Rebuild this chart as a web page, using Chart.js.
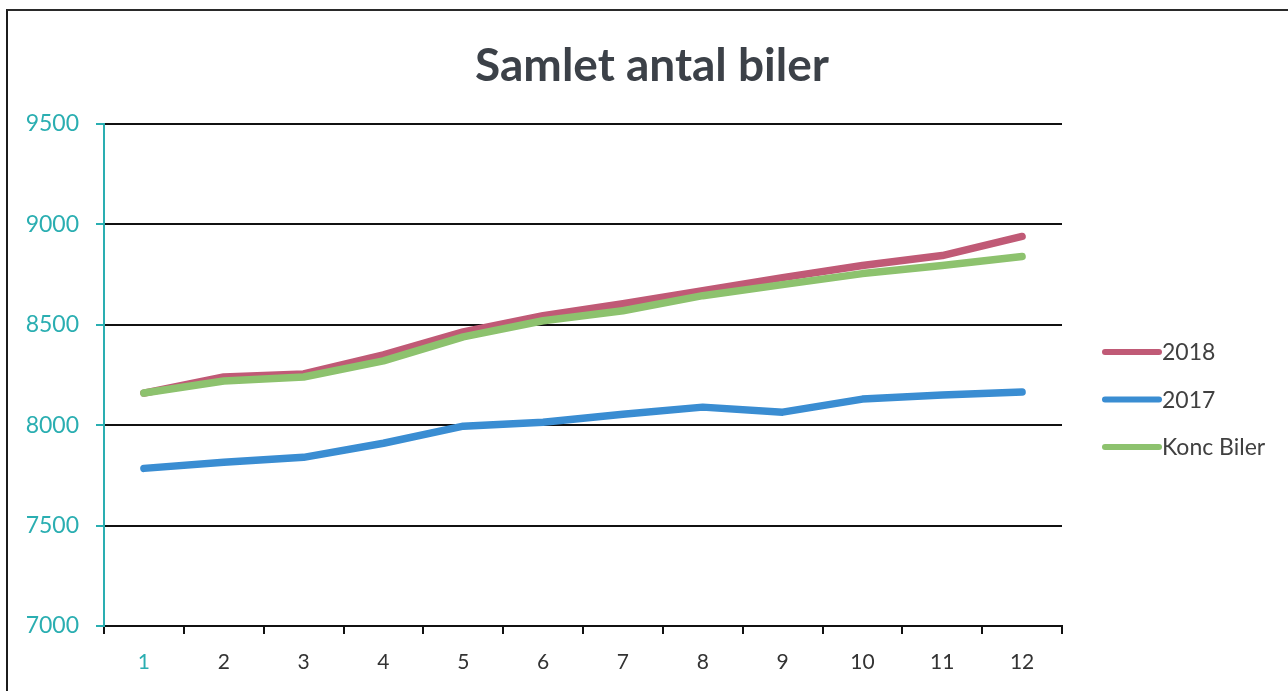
<!DOCTYPE html>
<html>
<head>
<meta charset="utf-8">
<script src="https://cdn.jsdelivr.net/npm/chart.js@4/dist/chart.umd.min.js"></script>
<style>
html, body { margin: 0; padding: 0; background: #fff; overflow: hidden; }
#wrap { position: relative; width: 1288px; height: 691px; }
#frame { position: absolute; left: 6px; top: 9px; width: 1400px; height: 800px;
         border-left: 2px solid #1c1c1c; border-top: 2px solid #2a2a2a; pointer-events: none; }
</style>
</head>
<body>
<div id="wrap">
  <canvas id="bilerChart" width="1288" height="691"></canvas>
  <div id="frame"></div>
</div>
<script>
// data
var titel = "Samlet antal biler";
var maaneder = ["1", "2", "3", "4", "5", "6", "7", "8", "9", "10", "11", "12"];
var biler2018 = [8160, 8240, 8255, 8350, 8465, 8545, 8605, 8670, 8735, 8795, 8845, 8940];
var biler2017 = [7785, 7815, 7840, 7910, 7995, 8015, 8055, 8090, 8065, 8130, 8150, 8165];
var koncBiler = [8160, 8220, 8240, 8320, 8440, 8520, 8570, 8645, 8700, 8755, 8795, 8840];
var yMin = 7000, yMax = 9500, yStep = 500;

var teal = "#2aaeb1";

// title + legend drawn by hand so they sit where the scan has them
var decor = {
  id: "decor",
  afterDraw: function(chart) {
    var ctx = chart.ctx;
    ctx.save();
    ctx.font = "bold 46px Lato";
    ctx.fillStyle = "#3c4148";
    ctx.textAlign = "center";
    ctx.textBaseline = "middle";
    ctx.fillText(titel, 652, 66);

    chart.data.datasets.forEach(function(ds, i) {
      var y = 352 + i * 47.5;
      ctx.strokeStyle = ds.borderColor;
      ctx.lineWidth = 6;
      ctx.lineCap = "round";
      ctx.beginPath();
      ctx.moveTo(1105, y);
      ctx.lineTo(1159, y);
      ctx.stroke();
      ctx.font = "23px Lato";
      ctx.fillStyle = "#404040";
      ctx.textAlign = "left";
      ctx.fillText(ds.label, 1162, y + 1);
    });
    ctx.restore();
  }
};

function start() {
  var ctx = document.getElementById("bilerChart").getContext("2d");
  new Chart(ctx, {
    type: "line",
    data: {
      labels: maaneder,
      datasets: [
        { label: "2018", data: biler2018, borderColor: "#c05a76", order: 2 },
        { label: "2017", data: biler2017, borderColor: "#3a8dd2", order: 1 },
        { label: "Konc Biler", data: koncBiler, borderColor: "#8dc26e", order: 0 }
      ]
    },
    options: {
      responsive: false,
      animation: false,
      elements: {
        line: { borderWidth: 7.5, tension: 0, borderCapStyle: "round", borderJoinStyle: "round", fill: false },
        point: { radius: 0, hoverRadius: 0 }
      },
      layout: { padding: { left: 0, right: 226, top: 124, bottom: 0 } },
      plugins: {
        legend: { display: false },
        title: { display: false },
        tooltip: { enabled: false }
      },
      scales: {
        x: {
          offset: true,
          afterFit: function(scale) { scale.height = 65; },
          grid: { offset: true, drawOnChartArea: false, drawTicks: true, tickLength: 8, color: "#111", lineWidth: 2 },
          border: { color: "#111", width: 2 },
          ticks: {
            padding: 16,
            font: { family: "Lato", size: 21 },
            color: function(c) { return c.index === 0 ? teal : "#333"; }
          }
        },
        y: {
          min: yMin,
          max: yMax,
          afterFit: function(scale) { scale.width = 104; },
          grid: { color: "#111", lineWidth: 2, tickColor: teal, tickLength: 8 },
          border: { color: teal, width: 2 },
          ticks: {
            stepSize: yStep,
            padding: 17,
            color: teal,
            font: { family: "Lato", size: 23 },
            callback: function(v) { return String(v); }
          }
        }
      }
    },
    plugins: [decor]
  });
}

document.addEventListener("DOMContentLoaded", start);
</script>
</body>
</html>
